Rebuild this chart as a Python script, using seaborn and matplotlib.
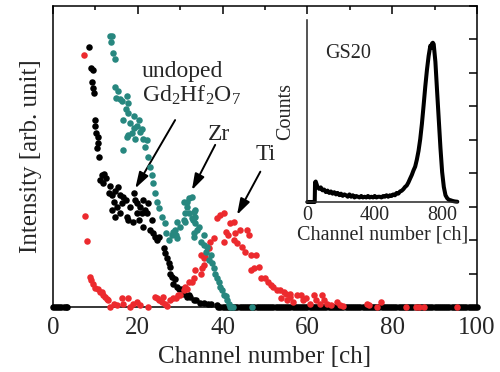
import numpy as np
import pandas as pd
import matplotlib
matplotlib.use("Agg")
import matplotlib.pyplot as plt
from matplotlib.ticker import MultipleLocator, FixedLocator, NullFormatter
import seaborn as sns

# ---------------- data ----------------
black_ch = [0, 0.5, 1, 1.5, 2, 2.5, 3, 3.3,
            8.6, 8.9, 9.4, 9.1, 9.5, 9.6, 9.8, 10.0, 10.2, 10.5, 10.7, 10.4, 10.9, 11.5, 12.0, 11.1,
            11.9, 12.4, 13.1, 13.9, 14.7, 15.4, 15.9, 16.6, 17.2, 14.3, 15.1, 13.9, 14.7, 15.9,
            16.2, 17.4, 17.6, 18.2, 19.0, 19.4, 19.8, 20.5, 21.3, 19.8, 20.9, 21.7, 22.1, 21.3,
            22.5, 23.3, 22.9, 23.7, 24.1, 24.5, 25.0, 18.8, 20.2, 13.5, 26.1, 26.5, 26.9, 27.3,
            27.6, 27.7, 28.0, 28.4, 28.8, 29.2, 29.8, 30.4, 30.8, 31.6, 32.0, 32.4, 33.2, 33.8,
            34.7, 35.6, 36.5, 37.2, 38.7,
            39, 39.5, 40, 40.5, 41, 41.5, 42, 42.5, 43, 43.5, 44, 44.5, 45, 45.5, 46, 46.5,
            47, 47.5, 48, 48.5, 49, 49.5, 50, 50.5, 51, 51.5, 52, 52.5, 53, 53.5, 54, 54.5,
            55, 55.5, 56, 56.5, 57, 57.5, 58, 58.5, 59, 59.5, 60, 60.5, 61, 61.5, 62, 62.5,
            63, 63.5, 64, 64.5, 65, 65.5, 66, 66.5, 67, 67.5, 68, 68.5, 69, 69.5, 70, 70.5,
            71, 71.5, 72, 72.5, 73, 73.5, 74, 74.5, 75, 75.5, 76, 76.5, 77, 77.5, 78, 78.5,
            79, 79.5, 80, 80.5, 81, 81.5, 82, 82.5, 83, 83.5, 84, 84.5, 85, 85.5, 86, 86.5,
            87, 87.5, 88, 88.5, 89, 89.5, 90, 90.5, 91, 91.5, 92, 92.5, 93, 93.5, 94, 94.5,
            95, 95.5, 96, 96.5, 97, 97.5, 98, 98.5, 99, 99.5, 100]
black_y = [0, 0, 0, 0, 0, 0, 0, 0,
           7.77, 7.12, 7.07, 6.73, 6.53, 6.4, 5.58, 5.4, 5.18, 5.08, 4.89, 4.75, 4.49, 3.94, 3.97, 3.79,
           3.69, 3.85, 3.39, 3.34, 3.45, 3.59, 3.35, 3.29, 3.2, 3.14, 3.0, 2.9, 2.7, 2.8,
           3.1, 2.7, 2.6, 3.0, 3.39, 3.2, 3.1, 3.0, 3.19, 2.8, 2.8, 2.9, 2.8, 2.4,
           3.1, 2.6, 2.3, 2.2, 2.1, 2.0, 2.1, 2.55, 2.6, 3.6, 1.75, 1.6, 1.45, 1.3,
           1.2, 1.0, 0.9, 0.7, 0.85, 0.6, 0.55, 0.55, 0.4, 0.3, 0.35, 0.3, 0.2, 0.2,
           0.13, 0.12, 0.1, 0.08, 0.06,
           0, 0, 0, 0, 0, 0, 0, 0, 0, 0, 0, 0, 0, 0, 0, 0,
           0, 0, 0, 0, 0, 0, 0, 0, 0, 0, 0, 0, 0, 0, 0, 0,
           0, 0, 0, 0, 0, 0, 0, 0, 0, 0, 0, 0, 0, 0, 0, 0,
           0, 0, 0, 0, 0, 0, 0, 0, 0, 0, 0, 0, 0, 0, 0, 0,
           0, 0, 0, 0, 0, 0, 0, 0, 0, 0, 0, 0, 0, 0, 0, 0,
           0, 0, 0, 0, 0, 0, 0, 0, 0, 0, 0, 0, 0, 0, 0, 0,
           0, 0, 0, 0, 0, 0, 0, 0, 0, 0, 0, 0, 0, 0, 0, 0,
           0, 0, 0, 0, 0, 0, 0, 0, 0, 0, 0]

zr_ch = [13.4, 13.8, 13.6, 14.2, 14.6, 14.6, 15.4, 14.9, 15.8, 16.3, 17.5, 17.8, 17.3, 17.8,
         16.6, 18.2, 20.2, 19.8, 19.0, 18.6, 17.8, 20.6, 19.4, 21.3, 22.1, 21.7, 19.2, 20.9,
         16.6, 17.4, 22.3, 22.9, 23.3, 23.7, 24.1, 24.5, 24.9, 25.7, 26.5, 26.7, 27.3, 28.0,
         28.4, 28.9, 28.8, 29.2, 29.2, 30.0, 30.8, 31.2, 31.2, 31.6, 30.9, 31.6, 32.0, 32.7,
         32.0, 32.7, 33.0, 33.2, 33.6, 33.6, 33.6, 34.0, 33.2, 33.2, 34.4, 35.6, 34.8, 35.6,
         36.4, 36.0, 37.2, 36.8, 37.6, 37.9, 38.3, 38.7, 39.1, 39.5, 39.9, 40.3, 40.7, 41.1,
         41.4, 41.8, 42.5, 47.0]
zr_y = [8.1, 8.08, 7.9, 7.57, 7.4, 6.58, 6.45, 6.25, 6.2, 6.15, 6.3, 6.1, 5.92, 5.78,
        5.58, 5.48, 5.58, 5.4, 5.33, 5.18, 5.13, 5.23, 5.03, 5.03, 4.98, 4.78, 5.7, 5.3,
        4.7, 5.08, 4.49, 4.19, 3.94, 3.69, 3.39, 3.14, 2.95, 2.7, 2.5, 2.2, 2.0, 2.15,
        2.25, 2.15, 2.3, 2.05, 2.55, 2.4, 2.6, 2.55, 2.8, 3.0, 3.14, 3.14, 3.24, 3.29,
        2.8, 2.65, 2.6, 2.85, 2.9, 2.7, 2.5, 2.3, 2.2, 2.1, 2.4, 2.15, 1.95, 1.85,
        1.8, 1.65, 1.55, 1.4, 1.3, 1.15, 1.0, 0.86, 0.75, 0.6, 0.5, 0.36, 0.33, 0.2,
        0.1, 0.0, 0.0, 0.0]

ti_ch = [7.2, 7.6, 8.0, 8.7, 9.0, 9.5, 9.9, 10.5, 11.0, 11.5, 11.9, 12.3, 12.8, 13.0, 13.5,
         14.3, 15.0, 16.2, 16.6, 17.8, 18.2, 18.8, 19.8, 20.5, 22.3, 24.1, 24.5, 25.0, 25.6,
         26.0, 26.5, 27.0, 27.5, 28.4, 28.9, 29.5, 30.0, 30.9, 31.2, 31.6, 32.0, 32.8, 33.2,
         33.6, 34.8, 35.2, 35.5, 34.8, 35.6, 35.9, 36.7, 37.1, 37.9, 38.7, 39.5, 40.3, 40.3,
         40.7, 41.3, 41.8, 42.6, 42.6, 43.0, 43.4, 44.2, 44.6, 45.4, 45.8, 46.2, 46.6, 47.8,
         46.6, 47.3, 48.5, 49.0, 50.0, 50.6, 51.3, 52.0, 52.9, 53.7, 53.5, 54.5, 55.0, 55.3,
         56.0, 56.0, 56.7, 57.5, 58.4, 59.0, 59.6, 60.5, 61.5, 62.0, 63.0, 63.5, 63.8, 64.6,
         65.5, 67.0, 67.8, 68.3, 74.0, 74.5, 76.3, 77.3, 83.2, 85.5, 86.3, 87.5, 95.4]
ti_y = [7.52, 2.72, 1.98, 0.9, 0.8, 0.7, 0.56, 0.55, 0.45, 0.46, 0.35, 0.3, 0.25, 0.2, 0.0,
        0.1, 0.05, 0.26, 0.1, 0.26, 0.0, 0.1, 0.16, 0.05, 0.0, 0.3, 0.26, 0.2, 0.15,
        0.3, 0.1, 0.02, 0.2, 0.26, 0.26, 0.35, 0.36, 0.5, 0.6, 0.55, 0.75, 0.75, 0.86,
        1.1, 1.0, 1.15, 1.25, 1.55, 1.45, 1.5, 1.75, 1.95, 2.05, 2.65, 2.75, 2.8, 1.95,
        2.25, 2.15, 2.5, 2.55, 2.0, 2.2, 1.9, 2.3, 1.8, 1.65, 2.3, 2.15, 1.55, 1.55,
        1.1, 1.15, 1.2, 0.86, 0.86, 0.75, 0.66, 0.6, 0.5, 0.26, 0.5, 0.46, 0.4, 0.2,
        0.3, 0.4, 0.16, 0.36, 0.36, 0.2, 0.26, 0.1, 0.36, 0.2, 0.1, 0.36, 0.2, 0.1,
        0.05, 0.16, 0.05, 0.02, 0.1, 0.05, 0.0, 0.16, 0.0, 0.0, 0.0, 0.0, 0.0]

gs_ch = [0, 10, 20, 30, 40, 44, 46, 50, 60, 70, 80, 90, 100, 110, 120, 130, 140, 150, 160, 170,
         180, 190, 200, 210, 220, 230, 240, 250, 260, 270, 280, 290, 300, 310, 320, 330, 340,
         350, 360, 370, 380, 390, 400, 410, 420, 430, 440, 450, 460, 470, 480, 490, 500, 510,
         520, 530, 540, 550, 560, 570, 580, 590, 600, 610, 620, 630, 640, 650, 660, 670, 680,
         690, 700, 710, 720, 730, 735, 740, 745, 750, 760, 770, 780, 790, 800, 810, 820, 830,
         840, 850, 860, 870, 880, 890]
gs_counts = [0, 0, 0, 0, 0, 0, 1.35, 1.4, 1.05, 0.9, 1.0, 0.8, 0.85, 0.68, 0.78, 0.62, 0.72, 0.57,
             0.67, 0.52, 0.62, 0.47, 0.57, 0.42, 0.52, 0.46, 0.36, 0.52, 0.36, 0.46, 0.31, 0.41,
             0.36, 0.31, 0.41, 0.31, 0.36, 0.31, 0.41, 0.31, 0.36, 0.31, 0.41, 0.31, 0.36, 0.36,
             0.31, 0.41, 0.36, 0.46, 0.36, 0.46, 0.41, 0.52, 0.46, 0.62, 0.57, 0.72, 0.77, 0.88,
             1.03, 1.13, 1.34, 1.6, 1.85, 2.16, 2.42, 2.9, 3.5, 4.3, 5.35, 6.6, 7.9, 9.05, 10.0,
             10.7, 10.55, 10.85, 10.9, 10.8, 9.6, 7.6, 5.65, 3.7, 2.05, 1.03, 0.46, 0.26, 0.15,
             0.12, 0.08, 0.05, 0.03, 0.02]

x_ticks = [0, 20, 40, 60, 80, 100]
inset_ticks = [0, 400, 800]

# ---------------- style ----------------
sns.set_theme(style="white")
plt.rcParams["font.family"] = ["Liberation Serif", "DejaVu Serif"]
plt.rcParams["mathtext.fontset"] = "custom"
plt.rcParams["mathtext.rm"] = "Liberation Serif"
plt.rcParams["mathtext.it"] = "Liberation Serif:italic"
plt.rcParams["axes.linewidth"] = 1.1

BLACK = "#000000"
TEAL = "#27877f"
RED = "#ec2a2e"

fig = plt.figure(figsize=(5.0, 3.72), dpi=100)
ax = fig.add_axes([0.106, 0.1747, 0.848, 0.8105])

df_b = pd.DataFrame({"ch": black_ch, "y": black_y})
df_z = pd.DataFrame({"ch": zr_ch, "y": zr_y})
df_t = pd.DataFrame({"ch": ti_ch, "y": ti_y})

kw = dict(s=22, linewidth=0, clip_on=False, legend=False, ax=ax)
sns.scatterplot(data=df_b, x="ch", y="y", color=BLACK, zorder=3, **kw)
sns.scatterplot(data=df_t, x="ch", y="y", color=RED, zorder=4, **kw)
sns.scatterplot(data=df_z, x="ch", y="y", color=TEAL, zorder=5, **kw)

ax.set_xlim(0, 100)
ax.set_ylim(0, 9)
ax.xaxis.set_major_locator(FixedLocator(x_ticks))
ax.xaxis.set_minor_locator(MultipleLocator(10))
ax.yaxis.set_major_locator(MultipleLocator(1))
ax.yaxis.set_major_formatter(NullFormatter())
ax.tick_params(which="both", direction="in", top=True, right=True, width=1.1, color="black",
               labelsize=18, pad=7)
ax.tick_params(which="major", length=6)
ax.tick_params(which="minor", length=3)
for s in ax.spines.values():
    s.set_color("black")
ax.set_xlabel("Channel number [ch]", fontsize=18, labelpad=5)
ax.set_ylabel("Intensity [arb. unit]", fontsize=18, labelpad=1)

# annotations
ax.text(20.9, 6.87, "undoped", fontsize=17, ha="left", va="baseline")
ax.text(20.9, 6.12, "Gd$_2$Hf$_2$O$_7$", fontsize=17, ha="left", va="baseline")
ax.text(39.2, 5.0, "Zr", fontsize=17, ha="center", va="baseline")
ax.text(50.1, 4.39, "Ti", fontsize=17, ha="center", va="baseline")
ap = dict(arrowstyle="-|>,head_length=0.7,head_width=0.22", lw=1.4, color="black",
          shrinkA=0, shrinkB=0, mutation_scale=14)
ax.annotate("", xy=(19.4, 3.54), xytext=(28.8, 5.58), arrowprops=ap)
ax.annotate("", xy=(32.75, 3.49), xytext=(38.25, 4.84), arrowprops=ap)
ax.annotate("", xy=(43.4, 2.75), xytext=(48.9, 4.04), arrowprops=ap)

# ---------------- inset ----------------
ins = fig.add_axes([0.6146, 0.457, 0.30, 0.489])
ins.set_facecolor("none")
df_gs = pd.DataFrame({"ch": gs_ch, "counts": gs_counts})
sns.lineplot(data=df_gs, x="ch", y="counts", color="black", lw=2.9, estimator=None,
             sort=False, ax=ins, clip_on=False)
ins.set_xlim(0, 890)
ins.set_ylim(0, 12.45)
ins.spines["top"].set_visible(False)
ins.spines["right"].set_visible(False)
ins.xaxis.set_major_locator(FixedLocator(inset_ticks))
ins.xaxis.set_minor_locator(MultipleLocator(200))
ins.yaxis.set_major_locator(FixedLocator([5, 11]))
ins.yaxis.set_minor_locator(MultipleLocator(1))
ins.yaxis.set_major_formatter(NullFormatter())
ins.tick_params(which="both", direction="in", width=1.0, color="black", labelsize=14.5, pad=3)
ins.tick_params(which="major", length=6)
ins.tick_params(which="minor", length=3)
ins.set_xlabel("Channel number [ch]", fontsize=14.5, labelpad=0)
ins.set_ylabel("Counts", fontsize=14.5, labelpad=6)
ins.text(105, 9.84, "GS20", fontsize=14.5, ha="left", va="baseline")

fig.savefig("out.png", dpi=100)
